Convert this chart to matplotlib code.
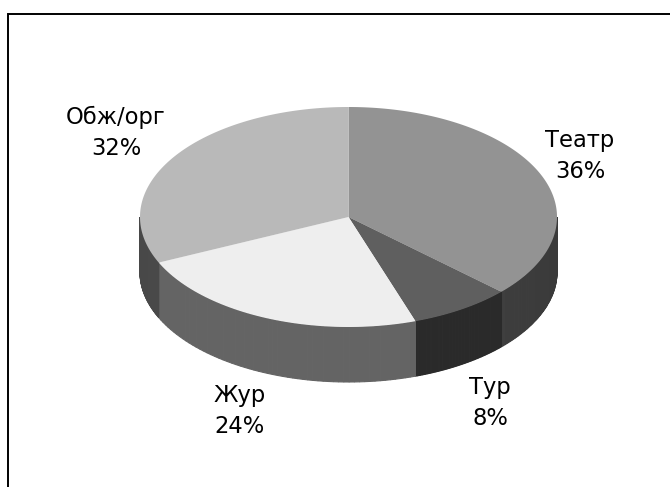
import numpy as np
import matplotlib
matplotlib.use("Agg")
import matplotlib.pyplot as plt
from matplotlib.colors import LinearSegmentedColormap

labels = ["Театр", "Тур", "Жур", "Обж/орг"]
shares = [36, 8, 24, 32]
slice_sizes = [36.9, 7.9, 23.4, 31.8]
top_colors = ["#939393", "#5f5f5f", "#eeeeee", "#b9b9b9"]
side_dark = ["#3a3a3a", "#2a2a2a", "#646464", "#484848"]
side_light = ["#484848", "#2a2a2a", "#646464", "#585858"]
label_pos = [(580, 156), (490, 403), (240, 411), (116, 133)]

W, H = 670, 487
fig = plt.figure(figsize=(W / 100, H / 100), dpi=100)
ax = fig.add_axes([0, 0, 1, 1])
ax.set_xlim(0, W)
ax.set_ylim(H, 0)
ax.axis("off")
ax.plot([8, 8, W], [H, 14, 14], color="black", lw=1.4, solid_joinstyle="miter")

cx, cy, rx, ry, depth = 348.5, 217, 208.5, 110, 55


def ell(t):
    return cx + rx * np.sin(t), cy - ry * np.cos(t)


edges = np.radians(np.concatenate([[0], np.cumsum(slice_sizes)]) * 3.6)

# sides
for i in range(len(slice_sizes)):
    a, b = max(edges[i], np.pi / 2), min(edges[i + 1], 3 * np.pi / 2)
    if a >= b:
        continue
    t = np.linspace(a, b, 60)
    x, y = ell(t)
    cmap = LinearSegmentedColormap.from_list("s", [side_light[i], side_dark[i]])
    for j in range(len(t) - 1):
        u = np.abs(np.sin((t[j] + t[j + 1]) / 2))
        c = cmap(u)
        ax.fill([x[j], x[j + 1], x[j + 1], x[j]],
                [y[j], y[j + 1], y[j + 1] + depth, y[j] + depth],
                fc=c, ec=c, lw=0.8)

# tops
for i in range(len(slice_sizes)):
    t = np.linspace(edges[i], edges[i + 1], 200)
    x, y = ell(t)
    ax.fill(np.r_[cx, x], np.r_[cy, y], color=top_colors[i], lw=0)

for lab, s, (x, y) in zip(labels, shares, label_pos):
    ax.text(x, y, f"{lab}\n{s}%", ha="center", va="center", fontsize=16.3,
            family="DejaVu Sans", linespacing=1.43, color="black")

fig.savefig("out.png", dpi=100)
